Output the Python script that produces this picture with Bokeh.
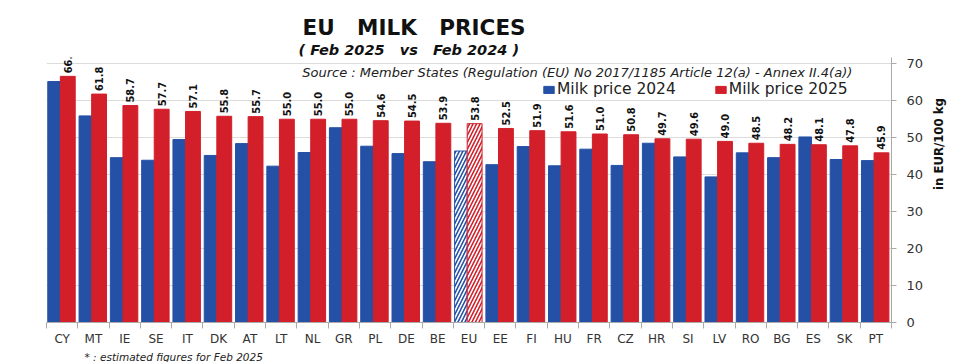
import math
from bokeh.plotting import figure
from bokeh.models import (ColumnDataSource, Range1d, FixedTicker, Legend, LegendItem,
                          Title, Label)
from bokeh.core.properties import value
from bokeh.embed import file_html
from bokeh.resources import INLINE

countries = ["CY", "MT", "IE", "SE", "IT", "DK", "AT", "LT", "NL", "GR", "PL", "DE", "BE", "EU",
             "EE", "FI", "HU", "FR", "CZ", "HR", "SI", "LV", "RO", "BG", "ES", "SK", "PT"]
price_2025 = [66.6, 61.8, 58.7, 57.7, 57.1, 55.8, 55.7, 55.0, 55.0, 55.0, 54.6, 54.5, 53.9, 53.8,
              52.5, 51.9, 51.6, 51.0, 50.8, 49.7, 49.6, 49.0, 48.5, 48.2, 48.1, 47.8, 45.9]
price_2024 = [65.2, 55.9, 44.6, 43.9, 49.5, 45.2, 48.4, 42.3, 46.0, 52.7, 47.7, 45.7, 43.5, 46.4,
              42.7, 47.6, 42.4, 46.9, 42.5, 48.5, 44.8, 39.4, 45.9, 44.6, 50.2, 44.1, 43.8]
y_ticks = [0, 10, 20, 30, 40, 50, 60, 70]
estimated = ["EU"]

BLUE = "#2450a6"
RED = "#d21f2a"
FONT = "DejaVu Sans"
NARROW = "'DejaVu Sans Condensed', 'Liberation Sans Narrow', Roboto, sans-serif"
SP = "\u00a0 \u00a0"  # wide gap that SVG will not collapse

idx = list(range(len(countries)))
normal = [i for i in idx if countries[i] not in estimated]
est = [i for i in idx if countries[i] in estimated]

def src(ids):
    return ColumnDataSource(dict(
        xb=[i - 0.257 for i in ids], xr=[i + 0.18 for i in ids],
        v24=[price_2024[i] for i in ids], v25=[price_2025[i] for i in ids],
        lab=["%.1f" % price_2025[i] for i in ids]))

s_norm = src(normal)
s_est = src(est)
s_all = src(idx)

p = figure(width=956, height=362, output_backend="svg", toolbar_location=None,
           x_range=Range1d(-0.5, len(countries) - 0.5), y_range=Range1d(0, 71.7),
           y_axis_location="right", title=None,
           min_border_left=46, min_border_right=61, min_border_top=57, min_border_bottom=39)
p.outline_line_color = None
p.background_fill_color = "white"
p.border_fill_color = "white"

# grid
p.xgrid.visible = False
p.ygrid.ticker = FixedTicker(ticks=y_ticks)
p.ygrid.grid_line_color = "#dcdcdc"
p.ygrid.grid_line_width = 1

# bars
rb = p.vbar(x="xb", top="v24", width=0.405, source=s_norm, fill_color=BLUE, line_color=BLUE)
rr = p.vbar(x="xr", top="v25", width=0.475, source=s_norm, fill_color=RED, line_color=RED)
p.vbar(x="xb", top="v24", width=0.405, source=s_est, fill_color="white", line_color=BLUE,
       hatch_pattern="/", hatch_color=BLUE, hatch_scale=7, hatch_weight=1.6)
p.vbar(x="xr", top="v25", width=0.475, source=s_est, fill_color="white", line_color=RED,
       hatch_pattern="/", hatch_color=RED, hatch_scale=7, hatch_weight=1.6)

# value labels
p.text(x="xr", y="v25", text="lab", source=s_all, angle=math.pi / 2, y_offset=-3,
       text_align="left", text_baseline="middle", text_font=value(NARROW),
       text_font_style="bold", text_font_size="11px", text_color="#111111")

# x axis
xa = p.xaxis[0]
xa.ticker = FixedTicker(ticks=idx, minor_ticks=[i - 0.5 for i in range(len(countries) + 1)])
xa.major_label_overrides = {i: c for i, c in enumerate(countries)}
xa.major_tick_line_color = None
xa.major_tick_out = 0
xa.minor_tick_in = 0
xa.minor_tick_out = 6
xa.minor_tick_line_color = "#aaaaaa"
xa.axis_line_color = "#aaaaaa"
xa.major_label_text_font = FONT
xa.major_label_text_font_size = "12px"
xa.major_label_text_color = "#333333"
xa.major_label_standoff = 3

# y axis (right)
ya = p.yaxis[0]
ya.ticker = FixedTicker(ticks=y_ticks)
ya.minor_tick_line_color = None
ya.major_tick_in = 0
ya.major_tick_out = 5
ya.major_tick_line_color = "#aaaaaa"
ya.axis_line_color = "#aaaaaa"
ya.major_label_text_font = FONT
ya.major_label_text_font_size = "13px"
ya.major_label_text_color = "#333333"
ya.major_label_standoff = 10
ya.axis_label = "in EUR/100 kg"
ya.axis_label_orientation = math.pi / 2
ya.axis_label_text_font = NARROW
ya.axis_label_text_font_style = "bold"
ya.axis_label_text_font_size = "13px"
ya.axis_label_text_color = "#111111"
ya.axis_label_standoff = 12

# source note
p.add_layout(Label(x=7.67, y=67.6,
                   text="Source : Member States (Regulation (EU) No 2017/1185 Article 12(a) - Annex II.4(a))",
                   text_font=FONT, text_font_style="italic", text_font_size="13px",
                   text_color="#222222", text_baseline="middle"))

# legend
legend = Legend(items=[LegendItem(label="Milk price 2024", renderers=[rb]),
                       LegendItem(label="Milk price 2025", renderers=[rr])],
                location=(496, 224), orientation="horizontal", padding=0, margin=0,
                spacing=38, glyph_width=13, glyph_height=9, label_height=13,
                label_standoff=2, border_line_color=None, background_fill_alpha=0,
                label_text_font=FONT, label_text_font_size="15.5px", label_text_color="#222222")
p.add_layout(legend)

# titles
p.add_layout(Title(text="( Feb 2025" + SP + "vs" + SP + "Feb 2024 )", align="left", offset=252,
                   text_font=FONT, text_font_style="bold italic", text_font_size="14.5px",
                   text_color="#111111", standoff=0), "above")
p.add_layout(Title(text="EU" + SP + "MILK" + SP + "PRICES", align="left", offset=256,
                   text_font=FONT, text_font_style="bold", text_font_size="21.5px",
                   text_color="#111111", standoff=0), "above")
p.add_layout(Title(text="* : estimated figures for Feb 2025", align="left", offset=38,
                   text_font=FONT, text_font_style="italic", text_font_size="10.5px",
                   text_color="#222222", standoff=0), "below")

open("out.html", "w").write(file_html(p, INLINE))
